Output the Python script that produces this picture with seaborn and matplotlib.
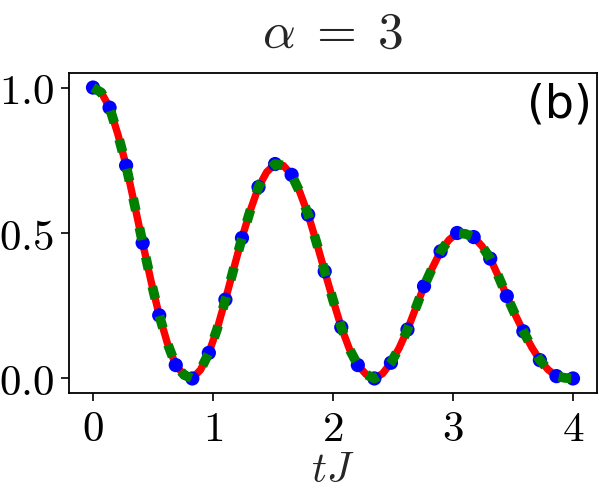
import numpy as np
import pandas as pd
import matplotlib
matplotlib.use("Agg")
import matplotlib.pyplot as plt
import seaborn as sns

# ---- data ----
t_dots = np.linspace(0, 4, 30)
p_dots = [1.000, 0.931, 0.732, 0.466, 0.217, 0.046, 0.000, 0.088, 0.271, 0.483,
          0.658, 0.737, 0.700, 0.563, 0.368, 0.176, 0.046, 0.000, 0.054, 0.168,
          0.317, 0.437, 0.500, 0.486, 0.412, 0.283, 0.162, 0.063, 0.008, 0.000]

t_line = np.linspace(0, 4, 59)
p_line = [1.000, 0.983, 0.931, 0.840, 0.732, 0.600, 0.466, 0.336, 0.217, 0.120,
          0.046, 0.012, 0.000, 0.030, 0.088, 0.170, 0.271, 0.377, 0.483, 0.577,
          0.658, 0.710, 0.737, 0.732, 0.700, 0.640, 0.563, 0.468, 0.368, 0.270,
          0.176, 0.100, 0.046, 0.014, 0.000, 0.017, 0.054, 0.105, 0.168, 0.242,
          0.317, 0.380, 0.437, 0.476, 0.500, 0.497, 0.486, 0.455, 0.412, 0.350,
          0.283, 0.220, 0.162, 0.108, 0.063, 0.030, 0.008, 0.002, 0.000]

x_ticks = [0, 1, 2, 3, 4]
x_tick_labels = [r"$0$", r"$1$", r"$2$", r"$3$", r"$4$"]
y_ticks = [0.0, 0.5, 1.0]
y_tick_labels = [r"$0.0$", r"$0.5$", r"$1.0$"]
title = r"$\alpha\;=\;3$"
xlabel = r"$tJ$"
panel = "(b)"

sns.set_style("ticks")
plt.rcParams["mathtext.fontset"] = "cm"
plt.rcParams["font.family"] = ["DejaVu Sans"]

df_line = pd.DataFrame({"t": t_line, "p": p_line})
df_dots = pd.DataFrame({"t": t_dots, "p": p_dots})

fig = plt.figure(figsize=(5.99, 4.91), dpi=100)
ax = fig.add_axes([69 / 599, 1 - 393 / 491, (597 - 69) / 599, (393 - 73) / 491])

sns.lineplot(data=df_line, x="t", y="p", ax=ax, color="red", linewidth=5.3,
             zorder=1, estimator=None, sort=False)
sns.scatterplot(data=df_dots, x="t", y="p", ax=ax, color="blue", s=105,
                edgecolor="none", linewidth=0, zorder=2)
sns.lineplot(data=df_line, x="t", y="p", ax=ax, color="green", linewidth=7,
             zorder=3, estimator=None, sort=False)
ax.lines[-1].set_dashes((1.3, 1.8))
ax.lines[-1].set_dash_capstyle("butt")

ax.set_xlim(-0.2, 4.2)
ax.set_ylim(-0.05, 1.05)
ax.set_xticks(x_ticks)
ax.set_xticklabels(x_tick_labels)
ax.set_yticks(y_ticks)
ax.set_yticklabels(y_tick_labels)
ax.tick_params(axis="both", direction="out", length=6, width=1.2,
               labelsize=31, colors="black")
ax.tick_params(axis="x", pad=5)
ax.tick_params(axis="y", pad=5)
for s in ax.spines.values():
    s.set_visible(True)
    s.set_linewidth(1.3)
    s.set_color("black")

ax.set_xlabel(xlabel, fontsize=30, labelpad=-1)
ax.set_ylabel("")
ax.set_title(title, fontsize=37, pad=18)
ax.text(0.99, 0.97, panel, transform=ax.transAxes, ha="right", va="top",
        fontsize=33, color="black")

fig.savefig("out.png", dpi=100)
